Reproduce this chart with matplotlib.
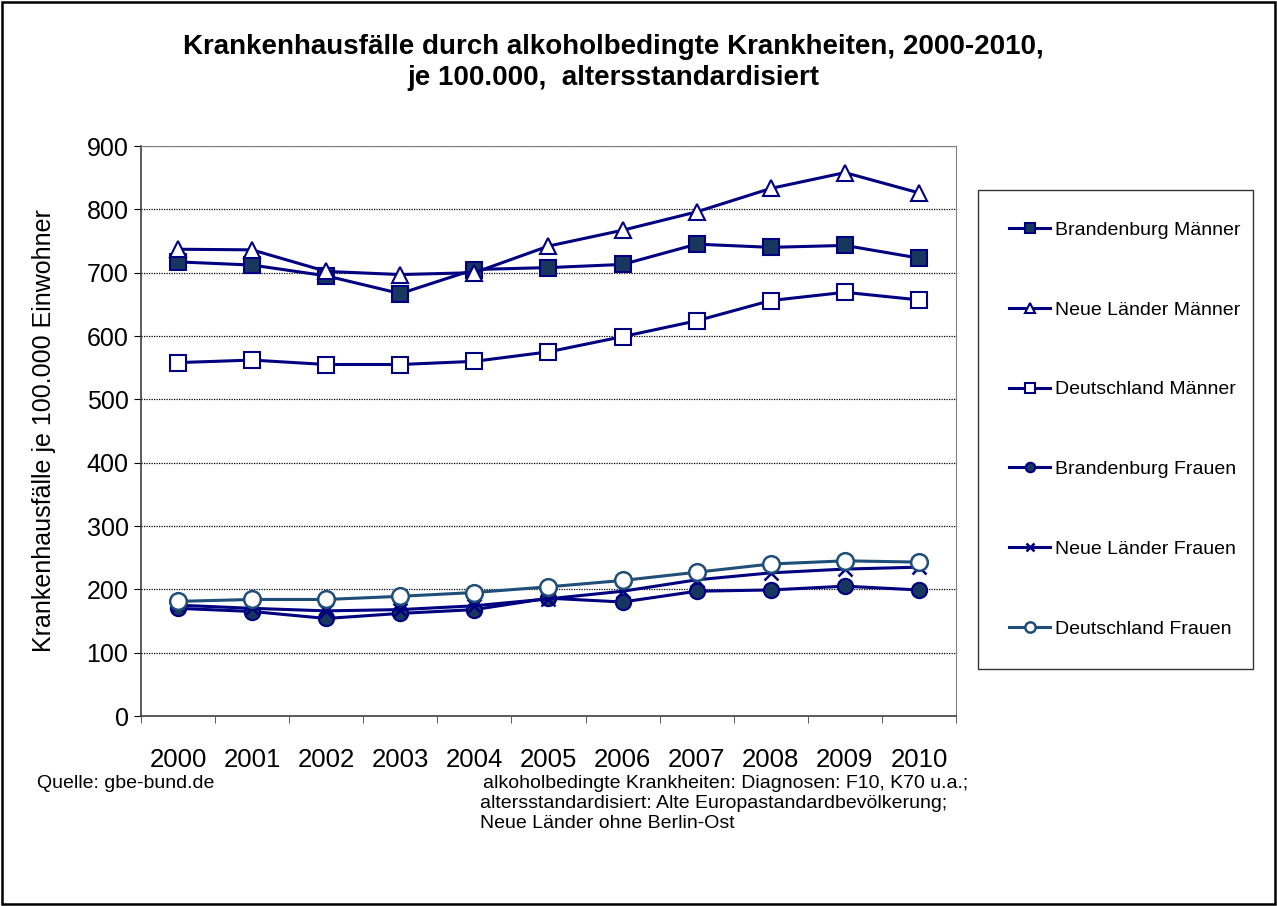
import numpy as np
import matplotlib
matplotlib.use("Agg")
from matplotlib import pyplot as plt
from matplotlib.patches import Rectangle

plt.rcParams['font.family'] = ['Liberation Sans', 'DejaVu Sans']

# Data
years = ['2000', '2001', '2002', '2003', '2004', '2005', '2006', '2007', '2008', '2009', '2010']
brandenburg_m = [717, 712, 695, 667, 705, 708, 713, 745, 740, 743, 723]
neue_laender_m = [737, 736, 702, 697, 700, 742, 767, 796, 833, 858, 826]
deutschland_m = [558, 562, 555, 555, 560, 575, 599, 624, 656, 669, 657]
brandenburg_f = [170, 165, 154, 162, 168, 186, 180, 197, 199, 205, 199]
neue_laender_f = [175, 170, 166, 168, 174, 185, 197, 215, 226, 232, 235]
deutschland_f = [181, 184, 184, 189, 195, 204, 214, 227, 240, 245, 243]

navy = '#000080'
dark = '#17375E'
steel = '#1F4E79'

fig = plt.figure(figsize=(12.77, 9.06), dpi=100)
ax = fig.add_axes([141 / 1277, 1 - 716 / 906, 815 / 1277, 570 / 906])

x = np.arange(len(years))
lw = 2.2
ax.plot(x, brandenburg_m, color=navy, lw=lw, marker='s', ms=11, mfc=dark, mec=navy, mew=1.5,
        label='Brandenburg Männer', zorder=3)
ax.plot(x, neue_laender_m, color=navy, lw=lw, marker='^', ms=12, mfc='white', mec=navy, mew=1.5,
        label='Neue Länder Männer', zorder=3)
ax.plot(x, deutschland_m, color=navy, lw=lw, marker='s', ms=11, mfc='white', mec=navy, mew=1.5,
        label='Deutschland Männer', zorder=3)
ax.plot(x, brandenburg_f, color=navy, lw=lw, marker='o', ms=11, mfc=dark, mec=navy, mew=1.5,
        label='Brandenburg Frauen', zorder=3)
ax.plot(x, neue_laender_f, color=navy, lw=lw, marker='x', ms=10, mec=navy, mew=1.8,
        label='Neue Länder Frauen', zorder=3)
ax.plot(x, deutschland_f, color=steel, lw=lw, marker='o', ms=12, mfc='white', mec=steel, mew=1.8,
        label='Deutschland Frauen', zorder=3)

ax.set_xlim(-0.5, len(years) - 0.5)
ax.set_ylim(0, 900)
ax.set_yticks(range(0, 901, 100))
ax.set_xticks(x)
ax.set_xticklabels(years)
ax.set_xticks(np.arange(-0.5, len(years), 1), minor=True)
ax.tick_params(axis='x', which='major', length=0, pad=23, labelsize=18.5)
ax.tick_params(axis='x', which='minor', length=5, direction='out', color='#404040')
ax.tick_params(axis='y', length=5, direction='out', pad=4, labelsize=18)
ax.yaxis.grid(True, linestyle=(0, (1, 1)), color='black', lw=0.9)
ax.set_axisbelow(True)
for side in ['top', 'right']:
    ax.spines[side].set_color('#808080')
for side in ['left', 'bottom']:
    ax.spines[side].set_color('#404040')
    ax.spines[side].set_linewidth(1.2)
ax.set_ylabel('Krankenhausfälle je 100.000 Einwohner', fontsize=18, labelpad=22)

leg = ax.legend(loc='upper left', bbox_to_anchor=(978 / 1277, 1 - 190 / 906 - 0.01, 275 / 1277, 0.01),
                bbox_transform=fig.transFigure, mode='expand', fontsize=14, frameon=True,
                fancybox=False, edgecolor='black', labelspacing=3.2, handlelength=2.1,
                handletextpad=0.25, borderpad=1.6, markerscale=0.62, borderaxespad=0)
leg.get_frame().set_linewidth(1.0)

fig.text(0.48, 1 - 47 / 906, 'Krankenhausfälle durch alkoholbedingte Krankheiten, 2000-2010,',
         ha='center', va='center', fontsize=20, fontweight='bold')
fig.text(0.48, 1 - 78 / 906, 'je 100.000,  altersstandardisiert',
         ha='center', va='center', fontsize=20, fontweight='bold')

fig.text(37 / 1277, 1 - 783 / 906, 'Quelle: gbe-bund.de', ha='left', va='center', fontsize=14)
fig.text(483 / 1277, 1 - 783 / 906, 'alkoholbedingte Krankheiten: Diagnosen: F10, K70 u.a.;',
         ha='left', va='center', fontsize=14)
fig.text(480 / 1277, 1 - 803 / 906, 'altersstandardisiert: Alte Europastandardbevölkerung;',
         ha='left', va='center', fontsize=14)
fig.text(480 / 1277, 1 - 823 / 906, 'Neue Länder ohne Berlin-Ost',
         ha='left', va='center', fontsize=14)

# outer frame around the whole chart
fig.patches.append(Rectangle((0.0015, 0.002), 0.997, 0.996, transform=fig.transFigure,
                             fill=False, edgecolor='black', lw=1.8))

fig.savefig('out.png', dpi=100)
